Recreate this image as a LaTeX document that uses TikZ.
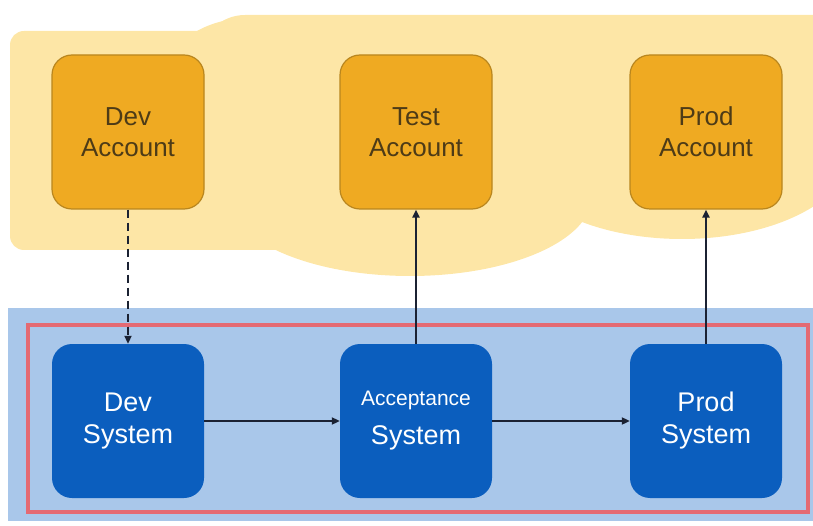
\documentclass[tikz,border=0pt]{standalone}
\usepackage{fontspec}
\setmainfont{Liberation Sans}
\usetikzlibrary{arrows.meta}

\definecolor{cloudfill}{HTML}{FDE6A6}
\definecolor{accfill}{HTML}{EFAA22}
\definecolor{accdraw}{HTML}{B9861E}
\definecolor{acctext}{HTML}{4D3B17}
\definecolor{sysbg}{HTML}{A9C7EA}
\definecolor{sysfill}{HTML}{0B5EBE}
\definecolor{framered}{HTML}{E46A73}
\definecolor{wire}{HTML}{1B2233}

\begin{document}
\begin{tikzpicture}[x=1pt,y=-1pt,
  acct/.style={draw=accdraw, line width=1.2pt, fill=accfill, rounded corners=20pt,
    minimum width=152pt, minimum height=154pt, align=center, text=acctext,
    font=\fontsize{26}{31}\selectfont},
  sys/.style={fill=sysfill, rounded corners=20pt,
    minimum width=152pt, minimum height=154pt, align=center, text=white,
    font=\fontsize{27}{32}\selectfont},
  link/.style={draw=wire, line width=2.2pt, -{Triangle[length=8pt,width=7pt]}}]

\useasboundingbox (0,0) rectangle (813,526);

% account area: a soft cloud built from overlapping lobes
\begin{scope}[cloudfill]
  \fill[rounded corners=14pt] (10,31) rectangle (300,250);
  \fill (250,70) ellipse [x radius=80pt, y radius=52pt];
  \fill[rounded corners=45pt] (200,15) rectangle (860,198);
  \fill (410,196) ellipse [x radius=182pt, y radius=80pt];
  \fill (682,150) ellipse [x radius=170pt, y radius=89pt];
\end{scope}

% system area and its frame
\fill[sysbg] (8,308) rectangle (813,521);
\draw[framered, line width=3.5pt] (28,325) rectangle (808,512);

% accounts
\node[acct] (devacc)  at (128,132) {Dev\\Account};
\node[acct] (testacc) at (416,132) {Test\\Account};
\node[acct] (prodacc) at (706,132) {Prod\\Account};

% systems
\node[sys] (devsys)  at (128,421) {Dev\\System};
\node[sys] (accsys)  at (416,421) {{\fontsize{21}{25}\selectfont Acceptance}\\[7pt]System};
\node[sys] (prodsys) at (706,421) {Prod\\System};

% connectors
\draw[link, dash pattern=on 8pt off 5pt] (devacc.south) -- (devsys.north);
\draw[link] (devsys.east) -- (accsys.west);
\draw[link] (accsys.east) -- (prodsys.west);
\draw[link] (accsys.north) -- (testacc.south);
\draw[link] (prodsys.north) -- (prodacc.south);
\end{tikzpicture}
\end{document}
